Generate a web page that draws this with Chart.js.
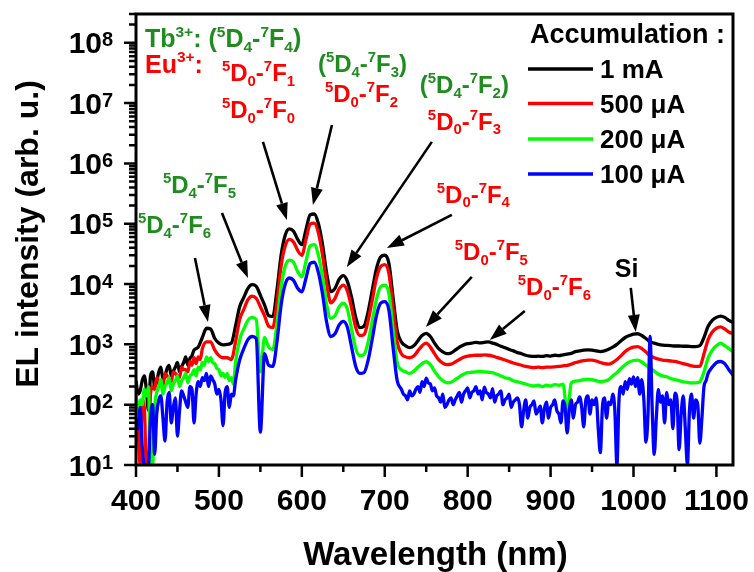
<!DOCTYPE html>
<html>
<head>
<meta charset="utf-8">
<script src="https://cdn.jsdelivr.net/npm/chart.js@4/dist/chart.umd.min.js"></script>
<style>
html,body{margin:0;padding:0;background:#fff;}
canvas{display:block;}
</style>
</head>
<body>
<canvas id="c" width="754" height="572"></canvas>
<script>
// ---------- data ----------
const wavelength = [
400,405,410,415,420,425,430,435,440,445,
450,455,460,465,470,475,480,485,490,495,
500,505,510,515,520,525,530,535,540,545,
550,555,560,565,570,575,580,585,590,595,
600,605,610,615,620,625,630,635,640,645,
650,655,660,665,670,675,680,685,690,695,
700,705,710,715,720,725,730,735,740,745,
750,755,760,765,770,775,780,785,790,795,
800,805,810,815,820,825,830,835,840,845,
850,855,860,865,870,875,880,885,890,895,
900,905,910,915,920,925,930,935,940,945,
950,955,960,965,970,975,980,985,990,995,
1000,1005,1010,1015,1020,1025,1030,1035,1040,1045,
1050,1055,1060,1065,1070,1075,1080,1085,1090,1095,
1100,1105,1110,1115,1120];

const seriesLabels = ['1 mA', '500 \u03bcA', '200 \u03bcA', '100 \u03bcA'];

const int1mA = [
250,170,300,80,350,240,420,300,450,360,
500,430,620,580,800,900,1300,1850,1800,1250,
1050,980,1000,1050,2000,4200,6000,8500,9800,9200,
6500,4500,3000,2900,8000,30000,65000,82000,75000,55000,
45000,80000,140000,145000,100000,45000,15000,7500,8500,12000,
13800,11000,6000,2800,1900,2000,3500,8000,18000,28000,
30000,22000,6000,1700,1100,950,880,950,1150,1400,
1520,1350,1050,850,750,700,720,800,900,980,
1030,1050,1080,1060,1080,1100,1050,1000,930,880,
820,780,730,700,660,640,630,640,630,650,
640,660,650,670,690,710,760,780,800,810,
800,780,760,780,830,900,1000,1150,1300,1400,
1480,1500,1400,1250,1100,1050,1000,970,960,950,
940,940,930,930,920,920,950,1300,2000,2500,
2800,2950,2800,2500,2300];

const int500uA = [
120,10,90,10,200,280,220,330,260,350,
300,420,380,520,600,620,850,1100,1100,800,
650,600,600,560,1100,2600,3800,5500,6300,5800,
4200,3000,2000,1900,5000,20000,43000,55000,50000,36000,
30000,55000,98000,102000,70000,30000,10000,4900,5800,8300,
9600,7600,4000,1900,1400,1450,2500,5500,12500,19500,
21000,15000,4000,1100,700,620,600,640,780,950,
1050,900,700,560,490,460,470,510,560,610,
640,650,660,660,670,660,640,610,580,550,
520,490,470,450,430,420,410,420,410,420,
420,425,430,440,450,470,500,520,540,550,
550,530,500,480,470,500,560,650,760,850,
900,920,850,750,650,600,570,550,540,530,
520,500,480,460,440,430,430,700,1200,1600,
1850,1950,1800,1600,1500];

const int200uA = [
150,120,180,200,10,160,260,200,280,220,
300,250,330,300,380,420,500,620,600,480,
380,330,330,280,500,1200,1800,2500,2800,2600,
350,1300,900,820,2200,9000,20000,25000,23000,16000,
13200,24000,43000,45000,30000,13000,4500,2700,3000,4200,
4800,3800,1800,850,650,680,1100,2500,5600,9000,
9600,7000,1800,500,380,350,330,360,420,480,
515,460,360,290,250,230,235,260,290,320,
340,345,350,355,350,345,340,320,300,280,
270,250,240,230,220,210,205,210,200,210,
205,215,210,220,72,230,245,250,260,265,
260,250,240,245,260,300,340,400,460,510,
540,550,510,450,400,360,320,300,290,270,
260,250,240,235,230,230,240,350,600,800,
950,1050,950,850,760];

const int100uA = [
60,90,10,10,100,70,140,25,160,90,
30,170,110,200,50,240,280,330,300,220,
180,45,200,150,250,550,850,1200,1350,1250,
35,700,450,430,1100,4500,10000,12600,11500,8500,
7400,12500,22000,23000,15500,6800,2300,1350,1500,2100,
2400,1900,900,430,330,340,550,1250,3000,4800,
5100,3700,900,250,180,140,170,150,200,240,
275,220,190,130,150,100,130,120,160,150,
190,160,200,170,195,150,185,140,170,120,
150,110,130,43,120,90,115,80,50,110,
90,120,70,115,34,120,100,135,43,140,
120,130,16,130,110,150,10,200,240,270,
290,280,260,24,1350,15,180,140,160,120,
155,18,140,10,150,120,23,200,330,420,
500,520,480,380,310];

// extra readings between grid points in the noisy parts of the spectra
const noise1mAWl = [402.5,407.5,412.5,417.5,422.5,427.5,432.5,437.5,442.5,447.5,452.5,457.5,462.5,467.5];
const noise1mA   = [150,250,180,300,200,350,260,400,300,420,350,500,450,650];
const noise500uAWl = [402.5,407.5,412.5,417.5,422.5,427.5,432.5,437.5,442.5,447.5,452.5,457.5,462.5,467.5,472.5,477.5];
const noise500uA   = [40,120,10,150,180,250,200,300,240,330,280,380,350,450,480,560];
const noise200uAWl = [402.5,407.5,412.5,417.5,422.5,427.5,432.5,437.5,442.5,447.5,452.5,457.5,
                      462.5,467.5,472.5,477.5,482.5,487.5,492.5,497.5,502.5,507.5,512.5,517.5];
const noise200uA   = [60,100,140,10,90,200,150,230,170,250,200,280,
                      230,320,300,380,450,520,500,400,300,280,250,220];
const noise100uAWl = [402.5,407.5,412.5,417.5,422.5,427.5,432.5,437.5,442.5,447.5,452.5,457.5,
  462.5,467.5,472.5,477.5,482.5,487.5,492.5,497.5,502.5,507.5,512.5,517.5,
  722.5,727.5,732.5,737.5,742.5,747.5,752.5,757.5,762.5,767.5,
  772.5,777.5,782.5,787.5,792.5,797.5,802.5,807.5,812.5,817.5,
  822.5,827.5,832.5,837.5,842.5,847.5,852.5,857.5,862.5,867.5,
  872.5,877.5,882.5,887.5,892.5,897.5,902.5,907.5,912.5,917.5,
  922.5,927.5,932.5,937.5,942.5,947.5,952.5,957.5,962.5,967.5,
  972.5,977.5,982.5,987.5,992.5,997.5,1002.5,1007.5,1012.5,1017.5,
  1022.5,1027.5,1032.5,1037.5,1042.5,1047.5,1052.5,1057.5,1062.5,1067.5,
  1072.5,1077.5,1082.5,1087.5];
const noise100uA = [40,20,10,60,15,120,60,110,50,130,80,140,
  90,180,150,200,250,200,260,150,120,160,90,140,
  150,120,140,180,160,200,230,170,140,110,
  90,120,100,140,110,170,130,170,150,120,
  160,130,110,150,100,130,90,120,100,80,
  60,100,70,95,85,60,100,80,50,90,
  80,60,110,90,120,70,100,40,90,60,
  100,80,120,150,180,220,200,150,120,70,
  90,60,110,50,100,40,120,70,40,80,
  60,100,60,250];

const seriesColors = ['#000000', '#ff0000', '#00ff00', '#0000ff'];

// tick labels
const xTickLabels = [400, 500, 600, 700, 800, 900, 1000, 1100];
const yTickExponents = [1, 2, 3, 4, 5, 6, 7, 8];

// annotations: x in nm, ly = log10(intensity)
const GREEN = '#1f8c1f', RED = '#ff0000';
const labels = [
  {t: 'Tb^{3+}: (^5D_4-^7F_4)', x: 410.8, ly: 7.93, c: GREEN, s: 25},
  {t: 'Eu^{3+}:', x: 410.8, ly: 7.50, c: RED, s: 25},
  {t: '^5D_0-^7F_1', x: 503.7, ly: 7.37, c: RED, s: 24},
  {t: '^5D_0-^7F_0', x: 503.7, ly: 6.75, c: RED, s: 24},
  {t: '(^5D_4-^7F_3)', x: 619.4, ly: 7.52, c: GREEN, s: 24},
  {t: '^5D_0-^7F_2', x: 627.8, ly: 7.02, c: RED, s: 24},
  {t: '(^5D_4-^7F_2)', x: 742.3, ly: 7.17, c: GREEN, s: 24},
  {t: '^5D_0-^7F_3', x: 752.0, ly: 6.56, c: RED, s: 24},
  {t: '^5D_0-^7F_4', x: 762.8, ly: 5.35, c: RED, s: 24},
  {t: '^5D_0-^7F_5', x: 784.5, ly: 4.40, c: RED, s: 24},
  {t: '^5D_0-^7F_6', x: 860.5, ly: 3.82, c: RED, s: 24},
  {t: 'Si', x: 977.4, ly: 4.12, c: '#000000', s: 25},
  {t: '^5D_4-^7F_5', x: 432.5, ly: 5.51, c: GREEN, s: 24},
  {t: '^5D_4-^7F_6', x: 402.4, ly: 4.85, c: GREEN, s: 24}
];
const arrows = [
  {x1: 471.1, l1: 4.433, x2: 486.8, l2: 3.371},
  {x1: 503.7, l1: 5.179, x2: 535.0, l2: 4.101},
  {x1: 553.1, l1: 6.357, x2: 582.0, l2: 5.063},
  {x1: 636.3, l1: 6.638, x2: 613.4, l2: 5.312},
  {x1: 756.8, l1: 6.357, x2: 654.3, l2: 4.284},
  {x1: 780.9, l1: 5.146, x2: 702.6, l2: 4.599},
  {x1: 805.0, l1: 4.118, x2: 749.6, l2: 3.289},
  {x1: 868.9, l1: 3.554, x2: 826.7, l2: 3.073},
  {x1: 996.7, l1: 3.935, x2: 1002.7, l2: 3.206}
];

// ---------- helpers ----------
const FONT = '"Liberation Sans", Arial, Helvetica, sans-serif';
function parseRich(str) {
  const parts = [];
  let i = 0, buf = '';
  while (i < str.length) {
    const ch = str[i];
    if (ch === '^' || ch === '_') {
      if (buf) { parts.push([buf, 'n']); buf = ''; }
      const mode = ch === '^' ? 'sup' : 'sub';
      if (str[i + 1] === '{') {
        const j = str.indexOf('}', i);
        parts.push([str.slice(i + 2, j), mode]);
        i = j + 1;
      } else {
        parts.push([str[i + 1], mode]);
        i += 2;
      }
    } else { buf += ch; i++; }
  }
  if (buf) parts.push([buf, 'n']);
  return parts;
}
function drawRich(ctx, str, x, y, size, color) {
  ctx.fillStyle = color;
  ctx.textAlign = 'left';
  ctx.textBaseline = 'alphabetic';
  let cx = x;
  for (const [t, m] of parseRich(str)) {
    const fs = m === 'n' ? size : size * 0.62;
    ctx.font = 'bold ' + fs + 'px ' + FONT;
    const dy = m === 'sup' ? -size * 0.42 : (m === 'sub' ? size * 0.2 : 0);
    ctx.fillText(t, cx, y + dy);
    cx += ctx.measureText(t).width;
  }
}
function drawArrow(ctx, x1, y1, x2, y2) {
  const ang = Math.atan2(y2 - y1, x2 - x1);
  const hl = 17, hw = 6;
  const bx = x2 - hl * Math.cos(ang), by = y2 - hl * Math.sin(ang);
  ctx.beginPath(); ctx.moveTo(x1, y1); ctx.lineTo(bx, by); ctx.stroke();
  ctx.beginPath();
  ctx.moveTo(x2, y2);
  ctx.lineTo(bx + hw * Math.sin(ang), by - hw * Math.cos(ang));
  ctx.lineTo(bx - hw * Math.sin(ang), by + hw * Math.cos(ang));
  ctx.closePath(); ctx.fill();
}

const deco = {
  id: 'deco',
  afterDatasetsDraw(chart) {
    const ctx = chart.ctx, a = chart.chartArea;
    const xs = chart.scales.x, ys = chart.scales.y;
    ctx.save();
    ctx.strokeStyle = '#000'; ctx.fillStyle = '#000';

    // frame
    ctx.lineWidth = 3;
    ctx.strokeRect(a.left, a.top, a.right - a.left, a.bottom - a.top);

    // y ticks (major + minor, outward)
    ctx.lineWidth = 2.5;
    ctx.beginPath();
    for (const e of yTickExponents) {
      for (let k = 1; k <= 9; k++) {
        const v = k * Math.pow(10, e);
        if (v < ys.min || v > ys.max * 1.0001) continue;
        const py = ys.getPixelForValue(v);
        const len = k === 1 ? 12 : 7;
        ctx.moveTo(a.left, py); ctx.lineTo(a.left - len, py);
      }
    }
    // x ticks
    for (const v of xTickLabels) {
      const px = xs.getPixelForValue(v);
      ctx.moveTo(px, a.bottom); ctx.lineTo(px, a.bottom + 12);
      const m = v + 50;
      if (m < xs.max) {
        const pm = xs.getPixelForValue(m);
        ctx.moveTo(pm, a.bottom); ctx.lineTo(pm, a.bottom + 7);
      }
    }
    ctx.stroke();

    // x tick labels
    ctx.font = 'bold 30px ' + FONT;
    ctx.textAlign = 'center'; ctx.textBaseline = 'alphabetic';
    for (const v of xTickLabels) {
      ctx.fillText(String(v), xs.getPixelForValue(v), a.bottom + 45);
    }
    // y tick labels 10^n
    for (const e of yTickExponents) {
      const py = ys.getPixelForValue(Math.pow(10, e));
      ctx.font = 'bold 30px ' + FONT;
      ctx.textAlign = 'right';
      ctx.fillText('10', a.left - 34, py + 10.5);
      ctx.font = 'bold 20px ' + FONT;
      ctx.textAlign = 'left';
      ctx.fillText(String(e), a.left - 34, py + 3.5);
    }

    // axis titles
    ctx.font = 'bold 33px ' + FONT;
    ctx.textAlign = 'center';
    ctx.fillText('Wavelength (nm)', (a.left + a.right) / 2 + 1, 565);
    ctx.save();
    ctx.translate(38, 234);
    ctx.rotate(-Math.PI / 2);
    ctx.font = 'bold 32px ' + FONT;
    ctx.fillText('EL intensity (arb. u.)', 0, 0);
    ctx.restore();

    // arrows
    ctx.lineWidth = 2.6;
    for (const ar of arrows) {
      drawArrow(ctx,
        xs.getPixelForValue(ar.x1), ys.getPixelForValue(Math.pow(10, ar.l1)),
        xs.getPixelForValue(ar.x2), ys.getPixelForValue(Math.pow(10, ar.l2)));
    }
    // transition labels
    for (const lb of labels) {
      drawRich(ctx, lb.t, xs.getPixelForValue(lb.x), ys.getPixelForValue(Math.pow(10, lb.ly)), lb.s, lb.c);
    }

    // legend
    ctx.fillStyle = '#000';
    ctx.font = 'bold 27px ' + FONT;
    ctx.textAlign = 'left'; ctx.textBaseline = 'alphabetic';
    ctx.fillText('Accumulation :', 530, 43);
    const rows = [69, 103.5, 139, 174];
    chart.data.datasets.forEach((ds, i) => {
      ctx.strokeStyle = ds.borderColor;
      ctx.lineWidth = 3.5;
      ctx.beginPath(); ctx.moveTo(528, rows[i]); ctx.lineTo(593, rows[i]); ctx.stroke();
      ctx.fillStyle = '#000';
      ctx.font = 'bold 26px ' + FONT;
      ctx.fillText(ds.label, 600, rows[i] + 9);
    });
    ctx.restore();
  }
};

function buildPoints(vals, extraWl, extraVals) {
  const pts = wavelength.map((w, j) => ({x: w, y: vals[j]}));
  extraWl.forEach((w, j) => pts.push({x: w, y: extraVals[j]}));
  pts.sort((p, q) => p.x - q.x);
  return pts;
}
const series = [
  buildPoints(int1mA, noise1mAWl, noise1mA),
  buildPoints(int500uA, noise500uAWl, noise500uA),
  buildPoints(int200uA, noise200uAWl, noise200uA),
  buildPoints(int100uA, noise100uAWl, noise100uA)
];
const datasets = series.map((pts, i) => ({
  label: seriesLabels[i],
  data: pts,
  borderColor: seriesColors[i],
  backgroundColor: seriesColors[i],
  borderWidth: 3.3,
  pointRadius: 0,
  cubicInterpolationMode: 'monotone',
  order: 4 - i
}));

new Chart(document.getElementById('c'), {
  type: 'line',
  data: {datasets},
  options: {
    responsive: false,
    animation: false,
    layout: {padding: {top: 14, right: 21, left: 0, bottom: 0}},
    scales: {
      x: {
        type: 'linear', min: 400, max: 1120,
        grid: {display: false, drawTicks: false},
        border: {display: false},
        ticks: {display: false},
        afterFit(s) { s.height = 107; }
      },
      y: {
        type: 'logarithmic', min: 10, max: 3e8,
        grid: {display: false, drawTicks: false},
        border: {display: false},
        ticks: {display: false},
        afterFit(s) { s.width = 136; }
      }
    },
    plugins: {legend: {display: false}, tooltip: {enabled: false}}
  },
  plugins: [deco]
});
</script>
</body>
</html>
